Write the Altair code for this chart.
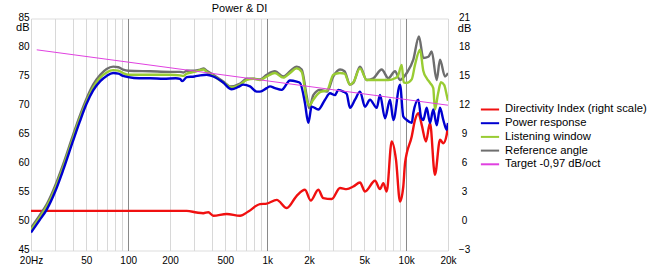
import altair as alt
import pandas as pd

# ---------------- data ----------------
series_names = ["Directivity Index (right scale)", "Power response",
                "Listening window", "Reference angle", "Target -0,97 dB/oct"]
series_colors = ["#f01010", "#0000d0", "#99cc33", "#6e6e6e", "#e040e0"]

freq_ticks = [20, 30, 40, 50, 60, 70, 80, 90, 100, 200, 300, 400, 500, 600, 700,
              800, 900, 1000, 2000, 3000, 4000, 5000, 6000, 7000, 8000, 9000,
              10000, 20000]
freq_labels = [(20, "20Hz"), (50, "50"), (100, "100"), (200, "200"), (500, "500"),
               (1000, "1k"), (2000, "2k"), (5000, "5k"), (10000, "10k"), (20000, "20k")]
db_ticks = list(range(45, 86))
di_ticks = [-3, 0, 3, 6, 9, 12, 15, 18, 21]

power = [(20, 48.1), (23, 50.2), (26, 52.1), (30, 55.3), (34, 58.8), (40, 63.8),
         (45, 67.3), (50, 70.2), (56, 72.6), (63, 74.2), (70, 75.1), (78, 75.6),
         (85, 75.5), (92, 75.1), (100, 74.9), (120, 74.7), (144, 74.7), (180, 74.6),
         (220, 74.7), (236, 74.6), (245, 74.2), (264, 74.9), (300, 75.0), (330, 75.2),
         (367, 75.3), (410, 75.0), (480, 74.0), (556, 72.8), (620, 73.2), (673, 73.6),
         (753, 73.3), (841, 72.4), (888, 72.4), (993, 73.0), (1048, 73.3), (1138, 73.0),
         (1272, 72.7), (1460, 74.3), (1631, 74.1), (1722, 73.9), (1871, 70.4),
         (1977, 67.0), (2090, 69.8), (2333, 69.3), (2607, 71.0), (2832, 72.1),
         (3076, 71.8), (3250, 72.7), (3532, 72.4), (3733, 72.0), (3944, 69.6),
         (4285, 71.0), (4656, 72.4), (5058, 69.8), (5495, 71.0), (6138, 69.6),
         (6486, 71.8), (7045, 67.8), (7655, 71.0), (8086, 67.5), (9032, 73.6),
         (9537, 68.1), (10094, 67.5), (10966, 67.0), (11258, 68.7), (12228, 71.0),
         (12800, 68.0), (13280, 67.5), (14054, 69.6), (14848, 67.0), (15668, 69.3),
         (16586, 66.6), (17512, 69.6), (18506, 67.5), (19572, 65.8), (20000, 67.0)]

listening = [(20, 48.5), (23, 50.6), (26, 52.6), (30, 55.8), (34, 59.3), (40, 64.3),
             (45, 67.8), (50, 70.6), (56, 73.1), (63, 74.8), (70, 75.7), (78, 76.1),
             (85, 76.0), (92, 75.6), (100, 75.3), (144, 75.3), (200, 75.3), (236, 75.2),
             (250, 75.1), (264, 75.5), (300, 75.8), (329, 76.1), (350, 76.2), (367, 75.8),
             (410, 75.1), (480, 74.0), (556, 73.1), (640, 73.6), (713, 74.4), (800, 74.6),
             (888, 74.4), (993, 75.0), (1138, 75.6), (1306, 74.8), (1460, 75.6),
             (1631, 76.4), (1772, 75.8), (1926, 71.0), (2009, 70.0), (2148, 71.0),
             (2400, 72.3), (2700, 72.6), (2992, 75.3), (3342, 75.6), (3600, 75.5),
             (3944, 73.6), (4168, 74.0), (4656, 76.4), (5200, 74.4), (5808, 74.4),
             (6668, 74.4), (7443, 74.4), (8318, 74.7), (8700, 75.0), (9290, 77.0),
             (9600, 74.0), (10094, 73.9), (10966, 74.5), (11578, 77.0), (12580, 79.6),
             (13280, 76.0), (14054, 74.7), (14848, 73.9), (15668, 73.0), (16108, 69.3),
             (16940, 72.0), (17800, 74.0), (18800, 73.5), (19500, 72.0), (20000, 70.8)]

reference = [(20, 48.9), (23, 51.0), (26, 53.0), (30, 56.3), (34, 59.8), (40, 64.8),
             (45, 68.3), (50, 71.1), (56, 73.6), (63, 75.3), (70, 76.3), (78, 76.7),
             (85, 76.6), (92, 76.2), (100, 76.0), (144, 75.9), (200, 75.8), (236, 75.8),
             (250, 75.7), (264, 76.0), (300, 76.0), (329, 76.2), (350, 76.4), (367, 76.0),
             (410, 75.3), (480, 74.2), (545, 73.3), (640, 73.8), (713, 74.6), (800, 74.6),
             (888, 74.5), (993, 75.3), (1138, 75.9), (1306, 75.0), (1460, 75.9),
             (1631, 76.7), (1772, 76.2), (1926, 71.6), (2009, 69.5), (2148, 71.8),
             (2400, 72.7), (2700, 72.4), (2992, 75.0), (3342, 76.2), (3600, 75.9),
             (3944, 73.6), (4168, 73.9), (4656, 76.7), (5200, 74.4), (5808, 74.7),
             (6668, 76.2), (7443, 74.7), (8318, 75.9), (9032, 74.4), (10094, 75.6),
             (11258, 77.9), (12361, 81.9), (13280, 78.2), (14436, 78.4), (15270, 79.3),
             (16586, 74.4), (17512, 77.9), (19020, 75.0), (20000, 75.6)]

directivity = [(20, 1.1), (250, 1.1), (264, 1.1), (311, 0.93), (347, 0.86), (377, 0.96),
               (410, 0.59), (512, 0.77), (638, 0.59), (732, 1.03), (888, 1.8), (993, 1.85),
               (1172, 2.24), (1383, 1.39), (1631, 2.66), (1871, 3.28), (2057, 2.17),
               (2333, 3.28), (2535, 2.42), (2913, 2.32), (3342, 3.46), (3733, 3.35),
               (4168, 3.62), (4656, 4.03), (5058, 3.1), (5970, 4.21), (6486, 3.35),
               (6848, 3.97), (7244, 3.1), (7870, 8.28), (8453, 6.38), (9032, 2.07),
               (9537, 3.62), (9812, 6.0), (10966, 8.8), (11578, 10.5), (12228, 11.2),
               (12940, 10.0), (13886, 8.28), (14848, 10.2), (16108, 4.83), (17512, 8.45),
               (18506, 8.1), (19572, 8.97), (20000, 10.1)]

target = [(22, 79.6), (20000, 70.05)]

# ---------------- table ----------------
rows = []
for name, pts in zip(series_names, [directivity, power, listening, reference, target]):
    for f, v in pts:
        rows.append({"s": name, "f": f, "v": v})
df = pd.DataFrame(rows)

FONT = "Liberation Sans"

label_expr = "".join(f"datum.value == {k} ? '{t}' : " for k, t in freq_labels) + "''"

x_enc = alt.X("f:Q",
              scale=alt.Scale(type="log", domain=[20, 20000], nice=False),
              axis=alt.Axis(values=freq_ticks, labelExpr=label_expr, title=None,
                            ticks=False, domain=False, labelOverlap=False,
                            labelPadding=5, labelFlush=False,
                            gridColor={"condition": {"test": "datum.value == 100 || datum.value == 1000 || datum.value == 10000",
                                                     "value": "#8a8a8a"},
                                       "value": "#d8d8d8"}))

y_left = alt.Y("v:Q",
               scale=alt.Scale(domain=[45, 85], nice=False, zero=False),
               axis=alt.Axis(values=db_ticks,
                             labelExpr="datum.value % 5 === 0 ? datum.value : ''",
                             ticks=False, domain=False, labelOverlap=False,
                             labelPadding=2, labelFlush=False, labelOffset=-1,
                             gridColor={"condition": {"test": "datum.value % 5 === 0",
                                                      "value": "#8a8a8a"},
                                        "value": "#d8d8d8"},
                             title="dB", titleAngle=0, titleAlign="right",
                             titleBaseline="middle", titleX=-2, titleY=9.5,
                             titleFontWeight="normal"))

y_right = alt.Y("v:Q",
                scale=alt.Scale(domain=[-3, 21], nice=False, zero=False),
                axis=alt.Axis(orient="right", values=di_ticks, grid=False,
                              ticks=False, domain=False, labelOverlap=False,
                              labelAlign="center", labelPadding=16, labelFlush=False,
                              labelOffset=-1,
                              title="dB", titleAngle=0, titleAlign="center",
                              titleBaseline="middle", titleX=16, titleY=10,
                              titleFontWeight="normal"))

color = alt.Color("s:N", scale=alt.Scale(domain=series_names, range=series_colors),
                  legend=alt.Legend(title=None, orient="none", legendX=452, legendY=84,
                                    symbolType="M-1.6,0H1.6", symbolSize=130,
                                    symbolStrokeWidth=2, labelFont=FONT,
                                    labelFontSize=11.3, labelColor="black",
                                    labelOffset=8, rowPadding=0.7, padding=0))


def series_layer(name, width, y_enc):
    return alt.Chart(df).transform_filter(alt.datum.s == name).mark_line(
        strokeWidth=width, interpolate="monotone", clip=True
    ).encode(x=x_enc, y=y_enc, color=color)


main = alt.layer(
    series_layer(series_names[3], 2.4, y_left),
    series_layer(series_names[2], 2.4, y_left),
    series_layer(series_names[1], 2.4, y_left),
    series_layer(series_names[4], 1.0, y_left),
)
di = series_layer(series_names[0], 2.4, y_right)

chart = alt.layer(di, main).resolve_scale(y="independent").properties(
    width=417, height=232,
    title=alt.TitleParams("Power & DI", font=FONT, fontSize=11, fontWeight="normal",
                          anchor="middle", offset=-2, color="black"),
    autosize=alt.AutoSizeParams(type="none"),
    padding={"left": 31, "top": 18.5, "right": 205, "bottom": 19.3},
).configure_axis(
    labelFont=FONT, labelFontSize=11, labelColor="black",
    titleFont=FONT, titleFontSize=11, titleColor="black", gridWidth=1
).configure_view(
    stroke="#808080", strokeWidth=1
).configure(background="white")

chart.save("out.html", embed_options={"renderer": "svg", "actions": False})
